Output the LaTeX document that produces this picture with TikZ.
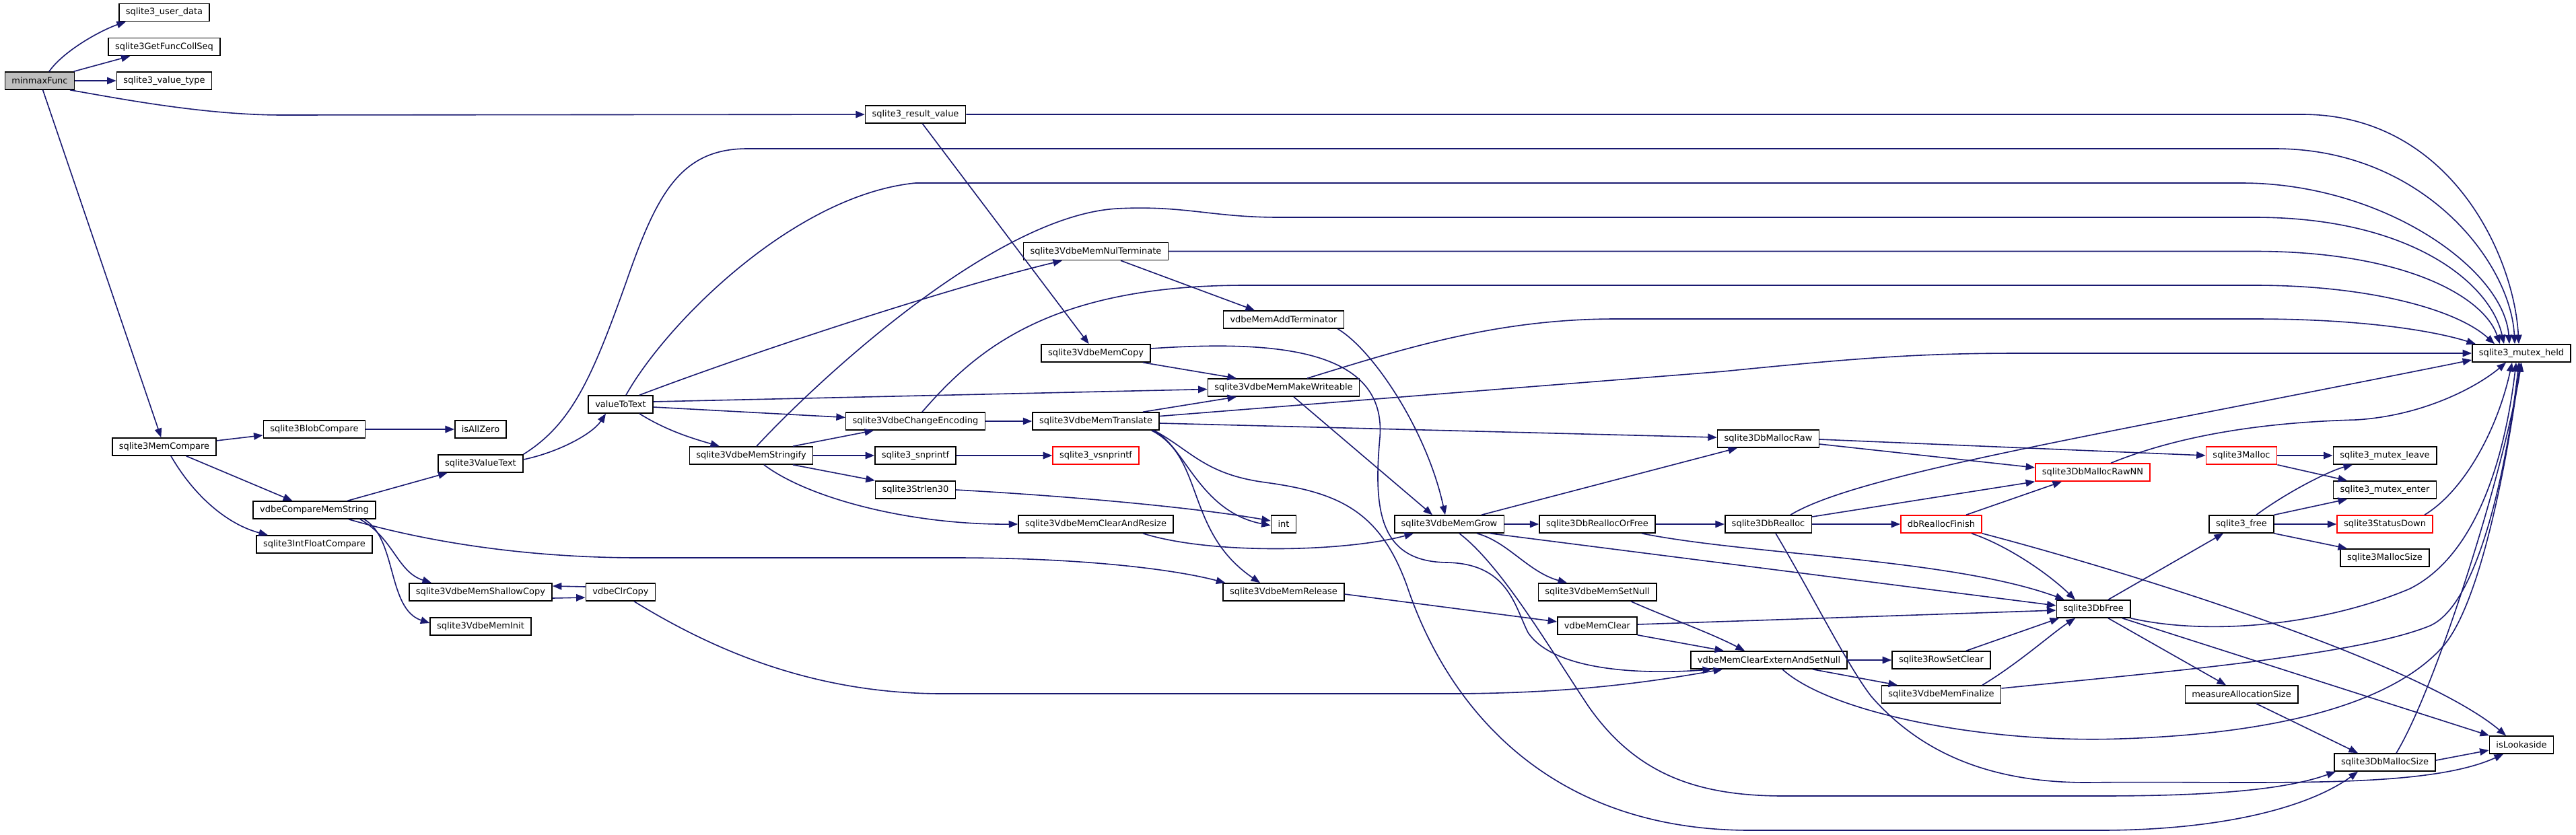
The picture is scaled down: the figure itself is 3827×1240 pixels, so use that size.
\documentclass[tikz,border=0pt]{standalone}
\usepackage{fontspec}
\setmainfont{DejaVu Sans}
\usepackage{xcolor}
\usetikzlibrary{arrows.meta}
\definecolor{edgeblue}{HTML}{191970}
\definecolor{rootgray}{HTML}{BFBFBF}
\tikzset{
  fn/.style={draw=black, line width=1.6pt, rectangle, fill=white, minimum height=26pt, inner xsep=10pt, inner ysep=0pt, font=\fontsize{13}{15}\selectfont},
  fnroot/.style={fn, fill=rootgray},
  fntrunc/.style={fn, draw=red},
  call/.style={-{Triangle[length=13.5pt,width=10.5pt]}, line width=1.6pt, draw=edgeblue}
}
\begin{document}
\begin{tikzpicture}[x=1pt,y=-1pt]
    \useasboundingbox (0,0) rectangle (3827,1240);

    \node[fnroot] (minmax) at (59,120) {minmaxFunc};
    \node[fn] (userdata) at (244,18.5) {sqlite3\_user\_data};
    \node[fn] (collseq) at (244,69.5) {sqlite3GetFuncCollSeq};
    \node[fn] (valtype) at (244,120) {sqlite3\_value\_type};
    \node[fn] (memcmp) at (244,664) {sqlite3MemCompare};
    \node[fn] (blobcmp) at (467,638) {sqlite3BlobCompare};
    \node[fn] (strcmp) at (467,758) {vdbeCompareMemString};
    \node[fn] (intflt) at (467,809) {sqlite3IntFloatCompare};
    \node[fn] (allzero) at (714,638) {isAllZero};
    \node[fn] (valtext) at (714,689) {sqlite3ValueText};
    \node[fn] (shallow) at (714,880) {sqlite3VdbeMemShallowCopy};
    \node[fn] (meminit) at (714,931) {sqlite3VdbeMemInit};
    \node[fn] (totext) at (922,601) {valueToText};
    \node[fn] (clrcopy) at (922,880) {vdbeClrCopy};
    \node[fn] (stringify) at (1116,677) {sqlite3VdbeMemStringify};
    \node[fn] (resval) at (1360,170) {sqlite3\_result\_value};
    \node[fn] (chenc) at (1360,626) {sqlite3VdbeChangeEncoding};
    \node[fn] (snprintf) at (1360,677) {sqlite3\_snprintf};
    \node[fn] (strlen) at (1360,728) {sqlite3Strlen30};
    \node[fn] (nulterm) at (1628,373.5) {sqlite3VdbeMemNulTerminate};
    \node[fn] (memcopy) at (1628,525) {sqlite3VdbeMemCopy};
    \node[fn] (translate) at (1628,626) {sqlite3VdbeMemTranslate};
    \node[fntrunc] (vsnprintf) at (1628,677) {sqlite3\_vsnprintf};
    \node[fn] (clrresize) at (1628,779) {sqlite3VdbeMemClearAndResize};
    \node[fn] (addterm) at (1907,475) {vdbeMemAddTerminator};
    \node[fn] (writeable) at (1907,576) {sqlite3VdbeMemMakeWriteable};
    \node[fn] (int) at (1907,779) {int};
    \node[fn] (release) at (1907,880) {sqlite3VdbeMemRelease};
    \node[fn] (grow) at (2153,779) {sqlite3VdbeMemGrow};
    \node[fn] (reallocfree) at (2373,779) {sqlite3DbReallocOrFree};
    \node[fn] (setnull) at (2373,880) {sqlite3VdbeMemSetNull};
    \node[fn] (memclear) at (2373,930) {vdbeMemClear};
    \node[fn] (mallocraw) at (2627,652) {sqlite3DbMallocRaw};
    \node[fn] (realloc) at (2627,779) {sqlite3DbRealloc};
    \node[fn] (clrextern) at (2628,981) {vdbeMemClearExternAndSetNull};
    \node[fntrunc] (reallocfin) at (2884,779) {dbReallocFinish};
    \node[fn] (rowset) at (2884,981) {sqlite3RowSetClear};
    \node[fn] (finalize) at (2884,1032) {sqlite3VdbeMemFinalize};
    \node[fntrunc] (rawnn) at (3109,702) {sqlite3DbMallocRawNN};
    \node[fn] (dbfree) at (3110,905) {sqlite3DbFree};
    \node[fntrunc] (malloc) at (3330,677) {sqlite3Malloc};
    \node[fn] (free) at (3330,779) {sqlite3\_free};
    \node[fn] (measure) at (3330,1032) {measureAllocationSize};
    \node[fn] (mleave) at (3543,677) {sqlite3\_mutex\_leave};
    \node[fn] (menter) at (3543,728) {sqlite3\_mutex\_enter};
    \node[fntrunc] (statusdown) at (3543,779) {sqlite3StatusDown};
    \node[fn] (mallocsize) at (3543,829) {sqlite3MallocSize};
    \node[fn] (dbmsize) at (3543,1133) {sqlite3DbMallocSize};
    \node[fn] (mheld) at (3746,525) {sqlite3\_mutex\_held};
    \node[fn] (lookaside) at (3746,1107) {isLookaside};

    \draw[call] ([xshift=14pt]minmax.north) .. controls (95,75) and (150,45) .. ([xshift=-57pt]userdata.south);
    \draw[call] (minmax) -- (collseq);
    \draw[call] (minmax) -- (valtype);
    \draw[call] ([xshift=45pt]minmax.south) .. controls (170,145) and (300,171) .. (420,171) -- (resval);
    \draw[call] (minmax) -- (memcmp);

    \draw[call] (resval) -- (memcopy);
    \draw[call] (resval.east) -- (3420,170) .. controls (3640,170) and (3735,380) .. ([xshift=-4pt]mheld.north);

    \draw[call] (memcmp) -- (blobcmp);
    \draw[call] (memcmp) -- (strcmp);
    \draw[call] ([xshift=10pt]memcmp.south) .. controls (290,740) and (340,780) .. ([xshift=-69pt]intflt.north);
    \draw[call] (blobcmp) -- (allzero);

    \draw[call] (strcmp) -- (valtext);
    \draw[call] ([xshift=68pt]strcmp.south) .. controls (585,800) and (590,850) .. ([xshift=-73pt]shallow.north);
    \draw[call] ([xshift=74pt]strcmp.south) .. controls (590,800) and (575,905) .. ([yshift=5pt]meminit.west);
    \draw[call] ([xshift=51pt]strcmp.south) .. controls (650,810) and (800,829) .. (950,829) -- (1420,829) .. controls (1600,829) and (1740,845) .. ([xshift=4pt]release.north west);

    \draw[call] ([yshift=6pt]valtext.east) .. controls (830,672) and (880,645) .. ([xshift=-22pt]totext.south);
    \draw[call] (valtext.north east) .. controls (850,630) and (880,560) .. (930,420) .. controls (975,290) and (1010,221) .. (1110,221) -- (3380,221) .. controls (3600,221) and (3730,390) .. ([xshift=-10pt]mheld.north);

    \draw[call] ([xshift=8pt]totext.north) .. controls (990,480) and (1180,290) .. (1360,272) -- (3330,272) .. controls (3540,272) and (3720,400) .. ([xshift=-18pt]mheld.north);
    \draw[call] ([xshift=28pt]totext.north) .. controls (1100,530) and (1400,430) .. ([xshift=-50pt]nulterm.south);
    \draw[call] ([yshift=4pt]totext.east) -- (writeable);
    \draw[call] ([yshift=-4pt]totext.east) -- (chenc);
    \draw[call] ([xshift=28pt]totext.south) .. controls (990,640) and (1030,652) .. ([xshift=-47pt]stringify.north);

    \draw[call] ([xshift=62pt]stringify.north) -- ([xshift=-62pt]chenc.south);
    \draw[call] (stringify) -- (snprintf);
    \draw[call] ([xshift=62pt]stringify.south) -- (strlen.north west);
    \draw[call] ([xshift=19pt]stringify.south) .. controls (1200,740) and (1350,780) .. (clrresize.west);
    \draw[call] ([xshift=8pt]stringify.north) .. controls (1220,560) and (1480,320) .. (1660,310) .. controls (1760,305) and (1800,323) .. (1900,323) -- (3350,323) .. controls (3580,323) and (3700,420) .. ([xshift=-26pt]mheld.north);

    \draw[call] (chenc) -- (translate);
    \draw[call] ([xshift=10pt]chenc.north) .. controls (1450,520) and (1560,424) .. (1850,424) -- (3350,424) .. controls (3520,424) and (3650,460) .. ([xshift=-40pt]mheld.north);
    \draw[call] (snprintf) -- (vsnprintf);
    \draw[call] (strlen.east) .. controls (1600,738) and (1780,755) .. ([yshift=5pt]int.west);

    \draw[call] ([xshift=70pt]translate.north) -- ([xshift=-70pt]writeable.south);
    \draw[call] (translate) -- (2560,552) .. controls (2760,532) and (2850,525) .. (3000,525) -- (mheld);
    \draw[call] ([yshift=-3pt]translate.east) -- (mallocraw);
    \draw[call] ([xshift=-10pt]translate.south east) .. controls (1760,660) and (1780,760) .. ([yshift=-2pt]int.west);
    \draw[call] ([xshift=-12pt]translate.south east) .. controls (1790,680) and (1760,790) .. ([xshift=-35pt]release.north);
    \draw[call] ([xshift=-8pt]translate.south east) .. controls (1770,670) and (1790,705) .. (1880,717) .. controls (1990,732) and (2050,760) .. (2090,870) .. controls (2150,1050) and (2300,1234) .. (2600,1234) -- (3120,1234) .. controls (3300,1234) and (3430,1200) .. ([xshift=-40pt]dbmsize.south);

    \draw[call] ([xshift=70pt]clrresize.south) .. controls (1800,825) and (2000,820) .. ([xshift=-53pt]grow.south);
    \draw[call] (nulterm.east) -- (3350,373.5) .. controls (3570,373.5) and (3690,440) .. ([xshift=-32pt]mheld.north);
    \draw[call] ([xshift=37pt]nulterm.south) -- ([xshift=-43pt]addterm.north);
    \draw[call] ([xshift=-10pt]addterm.south east) .. controls (2040,520) and (2120,640) .. ([xshift=-6pt]grow.north);
    \draw[call] ([xshift=70pt]memcopy.south) -- ([xshift=-70pt]writeable.north);
    \draw[call] ([yshift=7pt]memcopy.east) .. controls (1900,505) and (2060,520) .. (2050,650) .. controls (2040,760) and (2050,835) .. (2150,836) .. controls (2240,838) and (2250,900) .. (2270,940) .. controls (2310,1000) and (2450,1002) .. ([xshift=32pt]clrextern.south west);
    \draw[call] ([xshift=35pt]writeable.north) .. controls (2080,520) and (2220,474) .. (2400,474) -- (3350,474) .. controls (3500,474) and (3610,490) .. ([xshift=-68pt]mheld.north);
    \draw[call] ([xshift=15pt]writeable.south) -- ([xshift=-25pt]grow.north);
    \draw[call] ([yshift=-3pt]release.east) -- ([yshift=6pt]memclear.west);

    \draw[call] ([xshift=48pt]grow.north) -- ([xshift=-46pt]mallocraw.south);
    \draw[call] (grow) -- (reallocfree);
    \draw[call] ([xshift=41pt]grow.south) .. controls (2240,805) and (2270,850) .. ([xshift=-45pt]setnull.north);
    \draw[call] ([xshift=61pt]grow.south) -- ([yshift=5pt]dbfree.west);
    \draw[call] ([xshift=15pt]grow.south) .. controls (2230,840) and (2300,960) .. (2360,1050) .. controls (2430,1150) and (2520,1183) .. (2650,1183) -- (3120,1183) .. controls (3300,1183) and (3400,1172) .. ([xshift=-73pt]dbmsize.south);

    \draw[call] (reallocfree) -- (realloc);
    \draw[call] ([xshift=66pt]reallocfree.south) .. controls (2600,825) and (2900,830) .. ([xshift=-43pt]dbfree.north);
    \draw[call] ([xshift=50pt]setnull.south) .. controls (2470,915) and (2540,940) .. ([xshift=-36pt]clrextern.north);
    \draw[call] (memclear.south east) -- ([xshift=-67pt]clrextern.north);
    \draw[call] ([yshift=2pt]memclear.east) -- ([yshift=-2pt]dbfree.west);

    \draw[call] ([yshift=-1pt]mallocraw.east) -- (malloc.west);
    \draw[call] ([yshift=-8pt]mallocraw.east) -- ([yshift=7pt]rawnn.west);
    \draw[call] (realloc) -- (reallocfin);
    \draw[call] ([yshift=11pt]realloc.east) -- (rawnn.south west);
    \draw[call] ([xshift=33pt]realloc.north) .. controls (2760,705) and (3100,650) .. ([yshift=-10pt]mheld.west);
    \draw[call] ([xshift=11pt]realloc.south) .. controls (2690,880) and (2745,990) .. (2780,1035) .. controls (2850,1115) and (2950,1163) .. (3100,1163) .. controls (3350,1160) and (3600,1175) .. ([xshift=-27pt]lookaside.south);

    \draw[call] (clrextern) -- (rowset);
    \draw[call] ([xshift=65pt]clrextern.south) -- ([xshift=-65pt]finalize.north);
    \draw[call] ([xshift=20pt]clrextern.south) .. controls (2720,1060) and (2950,1105) .. (3150,1098) .. controls (3400,1090) and (3560,1040) .. (3630,960) .. controls (3690,890) and (3730,650) .. ([xshift=-2pt]mheld.south);

    \draw[call] ([xshift=45pt]reallocfin.south) .. controls (2980,810) and (3040,850) .. ([xshift=-27pt]dbfree.north);
    \draw[call] ([xshift=37pt]reallocfin.north) -- ([xshift=-46pt]rawnn.south);
    \draw[call] (reallocfin.south east) .. controls (3200,860) and (3600,990) .. ([xshift=-23pt]lookaside.north);
    \draw[call] ([xshift=37pt]rowset.north) -- ([xshift=-51pt]dbfree.south);
    \draw[call] ([xshift=61pt]finalize.north) .. controls (3000,985) and (3050,940) .. ([xshift=-27pt]dbfree.south);
    \draw[call] ([yshift=9pt]finalize.east) .. controls (3200,1000) and (3500,975) .. (3610,930) .. controls (3690,895) and (3730,650) .. ([xshift=-4pt]mheld.south);

    \draw[call] ([xshift=27pt]rawnn.north) .. controls (3230,650) and (3350,628) .. (3500,624) .. controls (3600,618) and (3680,575) .. ([xshift=-23pt]mheld.south);
    \draw[call] ([xshift=22pt]dbfree.north) -- ([xshift=-27pt]free.south);
    \draw[call] ([xshift=22pt]dbfree.south) -- ([xshift=-23pt]measure.north);
    \draw[call] ([xshift=43pt]dbfree.south) -- ([xshift=-48pt]lookaside.north);
    \draw[call] (dbfree.south east) .. controls (3280,945) and (3450,930) .. (3580,875) .. controls (3690,820) and (3725,650) .. ([xshift=-8pt]mheld.south);

    \draw[call] (malloc) -- (mleave);
    \draw[call] (malloc.south east) -- ([xshift=-56pt]menter.north);
    \draw[call] ([xshift=22pt]free.north) .. controls (3400,730) and (3460,700) .. ([xshift=-48pt]mleave.south);
    \draw[call] (free.north east) -- ([xshift=-56pt]menter.south);
    \draw[call] (free) -- (statusdown);
    \draw[call] (free.south east) -- ([xshift=-56pt]mallocsize.north);
    \draw[call] ([xshift=59pt]statusdown.north) .. controls (3660,730) and (3710,640) .. ([xshift=-14pt]mheld.south);

    \draw[call] ([xshift=22pt]measure.south) -- ([xshift=-40pt]dbmsize.north);
    \draw[call] ([yshift=3pt]dbmsize.east) -- ([yshift=-8pt]lookaside.west);
    \draw[call] ([xshift=17pt]dbmsize.north) .. controls (3620,1020) and (3720,700) .. (mheld.south);

    \draw[call] ([yshift=-9pt]shallow.east) -- ([yshift=-8pt]clrcopy.west);
    \draw[call] ([yshift=8pt]clrcopy.west) -- ([yshift=9pt]shallow.east);
    \draw[call] ([xshift=20pt]clrcopy.south) .. controls (1050,960) and (1200,1031) .. (1400,1031) -- (2150,1031) .. controls (2350,1031) and (2470,1010) .. ([xshift=48pt]clrextern.south west);
\end{tikzpicture}
\end{document}
